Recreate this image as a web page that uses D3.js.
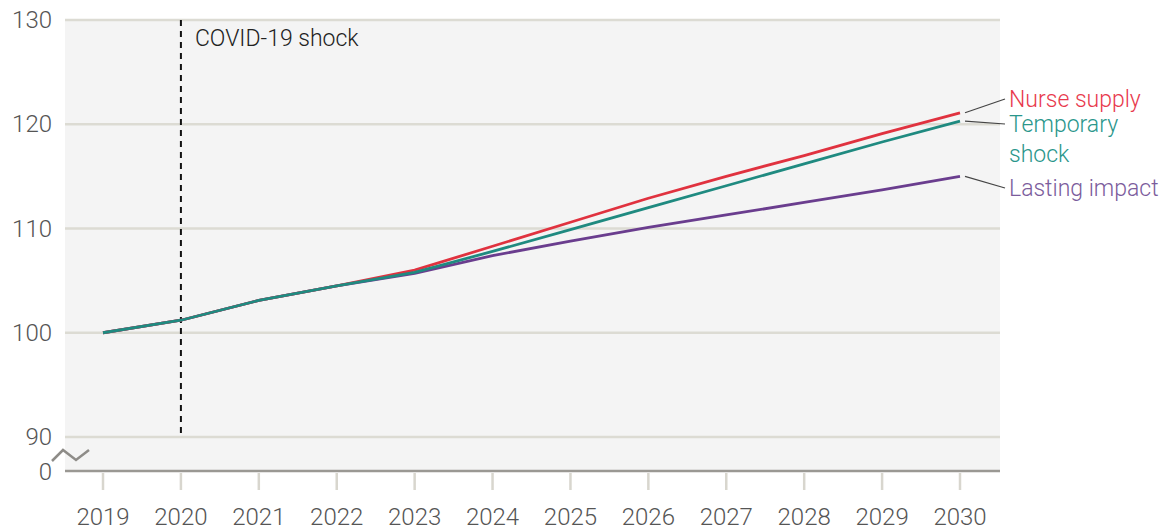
<!DOCTYPE html>
<html>
<head>
<meta charset="utf-8">
<script src="https://cdn.jsdelivr.net/npm/d3@7"></script>
<style>
  body { margin: 0; background: #fff; }
  svg text { font-family: Roboto, "Liberation Sans", sans-serif; font-weight: 300; }
</style>
</head>
<body>
<div id="chart"></div>
<script>
// ---------- Data ----------
const years = [2019, 2020, 2021, 2022, 2023, 2024, 2025, 2026, 2027, 2028, 2029, 2030];
const nurseSupply   = [100, 101.2, 103.1, 104.5, 106.0, 108.3, 110.6, 112.9, 115.0, 117.0, 119.1, 121.1];
const temporaryShock = [100, 101.2, 103.1, 104.5, 105.8, 107.8, 109.9, 112.0, 114.1, 116.2, 118.3, 120.3];
const lastingImpact = [100, 101.2, 103.1, 104.5, 105.7, 107.4, 108.8, 110.1, 111.3, 112.5, 113.7, 115.0];
const yTicks = [90, 100, 110, 120, 130];

const series = [
  { name: ["Nurse supply"], values: nurseSupply, color: "#e0323f", label: "#e8394d", ly: 99, order: 1 },
  { name: ["Temporary", "shock"], values: temporaryShock, color: "#1f8a80", label: "#2a968b", ly: 124, order: 2 },
  { name: ["Lasting impact"], values: lastingImpact, color: "#6a3d8e", label: "#7b5c9c", ly: 188, order: 0 }
];

// ---------- Layout ----------
const W = 1170, H = 530;
const plot = { left: 65, right: 1000, top: 20, bottom: 471 };

const svg = d3.select("#chart").append("svg")
  .attr("width", W).attr("height", H);

const x = d3.scalePoint().domain(years).range([103, 960]);
const y = d3.scaleLinear().domain([90, 130]).range([437, 20]);

// background
svg.append("rect")
  .attr("x", plot.left).attr("y", plot.top)
  .attr("width", plot.right - plot.left).attr("height", plot.bottom - plot.top)
  .attr("fill", "#f4f4f4");

// gridlines
svg.selectAll("line.grid").data(yTicks).enter().append("line")
  .attr("class", "grid")
  .attr("x1", plot.left).attr("x2", plot.right)
  .attr("y1", d => y(d)).attr("y2", d => y(d))
  .attr("stroke", "#dcdbd3").attr("stroke-width", 2.5);

// y labels
svg.selectAll("text.ylab").data(yTicks).enter().append("text")
  .attr("x", 52).attr("y", d => y(d) + 8)
  .attr("text-anchor", "end")
  .attr("font-size", 24).attr("fill", "#555")
  .text(d => d);
svg.append("text")
  .attr("x", 52).attr("y", plot.bottom + 9)
  .attr("text-anchor", "end")
  .attr("font-size", 24).attr("fill", "#555")
  .text("0");

// baseline
svg.append("line")
  .attr("x1", plot.left).attr("x2", plot.right)
  .attr("y1", plot.bottom).attr("y2", plot.bottom)
  .attr("stroke", "#9a9893").attr("stroke-width", 2.5);

// axis break zigzag
svg.append("polyline")
  .attr("points", "52,461 63,450 76,460 89,450")
  .attr("fill", "none").attr("stroke", "#8e8c88").attr("stroke-width", 2.5);

// x ticks & labels
const xAxis = svg.append("g");
xAxis.selectAll("line").data(years).enter().append("line")
  .attr("x1", d => x(d)).attr("x2", d => x(d))
  .attr("y1", plot.bottom + 2).attr("y2", 490)
  .attr("stroke", "#d8d6ce").attr("stroke-width", 2.5);
xAxis.selectAll("text").data(years).enter().append("text")
  .attr("x", d => x(d)).attr("y", 525)
  .attr("text-anchor", "middle")
  .attr("font-size", 24).attr("fill", "#555")
  .text(d => d);

// COVID line
svg.append("line")
  .attr("x1", x(2020)).attr("x2", x(2020))
  .attr("y1", plot.top).attr("y2", 438)
  .attr("stroke", "#111").attr("stroke-width", 2)
  .attr("stroke-dasharray", "6,5");
svg.append("text")
  .attr("x", x(2020) + 14).attr("y", 46)
  .attr("font-size", 23).attr("fill", "#222")
  .text("COVID-19 shock");

// lines
const line = d3.line().x((d, i) => x(years[i])).y(d => y(d));
svg.selectAll("path.series").data(series.slice().sort((a, b) => a.order - b.order)).enter().append("path")
  .attr("d", d => line(d.values))
  .attr("fill", "none")
  .attr("stroke", d => d.color)
  .attr("stroke-width", 2.8)
  .attr("stroke-linejoin", "round");

// labels with leader lines
series.forEach(s => {
  const yEnd = y(s.values[s.values.length - 1]);
  svg.append("line")
    .attr("x1", x(2030) + 5).attr("y1", yEnd)
    .attr("x2", 1005).attr("y2", s.ly)
    .attr("stroke", "#444").attr("stroke-width", 1.2);
  const t = svg.append("text")
    .attr("x", 1009).attr("y", s.ly + 8)
    .attr("font-size", 23).attr("fill", s.label);
  s.name.forEach((n, i) => {
    t.append("tspan").attr("x", 1009).attr("dy", i === 0 ? 0 : 30).text(n);
  });
});
</script>
</body>
</html>
